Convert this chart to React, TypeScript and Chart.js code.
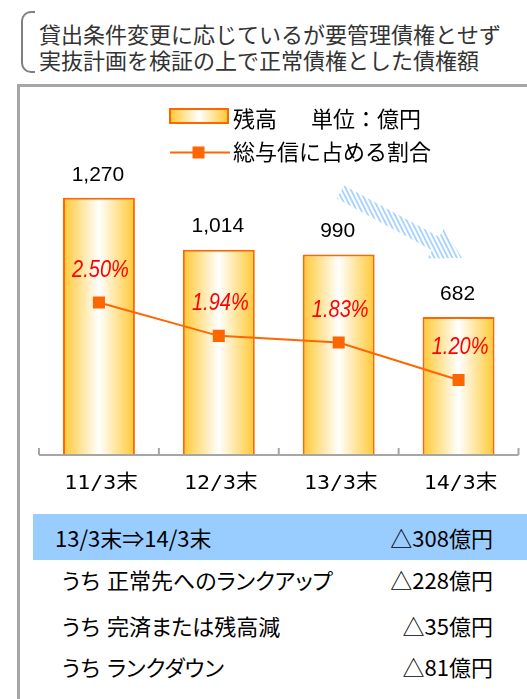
import React, { useEffect, useRef } from 'react';
import { Chart, registerables } from 'chart.js';

Chart.register(...registerables);

// ---- data ----
const titleLines = ['貸出条件変更に応じているが要管理債権とせず', '実抜計画を検証の上で正常債権とした債権額'];
const categories = ['11/3末', '12/3末', '13/3末', '14/3末'];
const balances = [1270, 1014, 990, 682];
const ratios = [2.5, 1.94, 1.83, 1.2];
const barLabel = '残高';
const unitLabel = '単位：億円';
const lineLabel = '総与信に占める割合';
const headerLabel = '13/3末⇒14/3末';
const headerValue = '△308億円';
const rowPrefix = 'うち';
const rowLabels = ['正常先へのランクアップ', '完済または残高減', 'ランクダウン'];
const rowValues = ['△228億円', '△35億円', '△81億円'];

// ---- styles ----
const BAR_PCT = 0.6;
const GOLD = '#FFC833';
const ORANGE = '#FF6600';
const CJK = '"Noto Sans CJK JP", sans-serif';

function barGradient(ctx: CanvasRenderingContext2D, x0: number, x1: number) {
  const g = ctx.createLinearGradient(x0, 0, x1, 0);
  g.addColorStop(0, GOLD);
  g.addColorStop(0.5, '#FFFFFF');
  g.addColorStop(1, GOLD);
  return g;
}

function txt(
  ctx: CanvasRenderingContext2D,
  s: string,
  x: number,
  y: number,
  font: string,
  color: string,
  align: CanvasTextAlign = 'center',
  sx = 1
) {
  ctx.save();
  ctx.translate(x, y);
  ctx.scale(sx, 1);
  ctx.font = font;
  ctx.fillStyle = color;
  ctx.textAlign = align;
  ctx.textBaseline = 'middle';
  ctx.fillText(s, 0, 0);
  ctx.restore();
}

const deco = {
  id: 'deco',
  beforeDatasetsDraw(chart: any) {
    const ctx: CanvasRenderingContext2D = chart.ctx;
    // hatched arrow
    const tail = { x: 340.5, y: 192 };
    const tip = { x: 462, y: 258 };
    const dx = tip.x - tail.x;
    const dy = tip.y - tail.y;
    const len = Math.hypot(dx, dy);
    const ux = dx / len, uy = dy / len;
    const nx = -uy, ny = ux;
    const sw = 7.5, hw = 17, hl = 30;
    const bx = tip.x - ux * hl, by = tip.y - uy * hl;
    ctx.save();
    ctx.beginPath();
    ctx.moveTo(tail.x + nx * sw, tail.y + ny * sw);
    ctx.lineTo(bx + nx * sw, by + ny * sw);
    ctx.lineTo(bx + nx * hw, by + ny * hw);
    ctx.lineTo(tip.x, tip.y);
    ctx.lineTo(bx - nx * hw, by - ny * hw);
    ctx.lineTo(bx - nx * sw, by - ny * sw);
    ctx.lineTo(tail.x - nx * sw, tail.y - ny * sw);
    ctx.closePath();
    ctx.clip();
    ctx.strokeStyle = '#A6D2FF';
    ctx.lineWidth = 1.8;
    ctx.beginPath();
    for (let c = 220; c < 370; c += 4.5) {
      ctx.moveTo(c + 0.5 * 160, 160);
      ctx.lineTo(c + 0.5 * 280, 280);
    }
    ctx.stroke();
    ctx.restore();

    // legend
    ctx.save();
    ctx.fillStyle = barGradient(ctx, 170, 228);
    ctx.fillRect(170, 109, 58, 14);
    ctx.strokeStyle = ORANGE;
    ctx.lineWidth = 2;
    ctx.strokeRect(170, 109, 58, 14);
    ctx.beginPath();
    ctx.moveTo(170, 152.5);
    ctx.lineTo(230, 152.5);
    ctx.stroke();
    ctx.fillStyle = ORANGE;
    ctx.fillRect(192.5, 146.5, 12, 12);
    ctx.restore();
    const ds = chart.data.datasets;
    txt(ctx, ds[0].label, 233, 118.5, `22px ${CJK}`, '#000', 'left');
    txt(ctx, unitLabel, 311, 118.5, `22px ${CJK}`, '#000', 'left');
    txt(ctx, ds[1].label, 233, 152, `22px ${CJK}`, '#000', 'left');
  },
  afterDatasetsDraw(chart: any) {
    const ctx: CanvasRenderingContext2D = chart.ctx;
    const a = chart.chartArea;
    const xs = chart.scales.x;
    // category axis with upward tick marks
    ctx.save();
    ctx.strokeStyle = '#A6A6A6';
    ctx.lineWidth = 2;
    ctx.beginPath();
    ctx.moveTo(a.left, a.bottom);
    ctx.lineTo(a.right, a.bottom);
    const step = xs.width / categories.length;
    for (let i = 0; i <= categories.length; i++) {
      const x = a.left + i * step;
      ctx.moveTo(x, a.bottom);
      ctx.lineTo(x, a.bottom - 7);
    }
    ctx.stroke();
    ctx.restore();
    categories.forEach((c, i) => {
      txt(ctx, c, xs.getPixelForValue(i) + 2, a.bottom + 28.5, `20px "DejaVu Sans Mono", ${CJK}`, '#000', 'center', 1.08);
    });
    // bar values
    const bm = chart.getDatasetMeta(0);
    bm.data.forEach((el: any, i: number) => {
      txt(ctx, balances[i].toLocaleString('en-US'), el.x - 1, el.y - 23, '21px "Liberation Sans", Arial, sans-serif', '#000');
    });
    // ratio labels
    const lm = chart.getDatasetMeta(1);
    lm.data.forEach((el: any, i: number) => {
      txt(ctx, ratios[i].toFixed(2) + '%', el.x + 1.5, el.y - 32, 'italic 23px "Liberation Sans", Arial, sans-serif', '#FF0000', 'center', 0.87);
    });
  },
};

export default function App() {
  const ref = useRef<HTMLCanvasElement>(null);
  useEffect(() => {
    if (!ref.current) return;
    const chart = new Chart(ref.current, {
      type: 'bar',
      data: {
        labels: categories,
        datasets: [
          {
            type: 'bar',
            label: barLabel,
            data: balances,
            yAxisID: 'y',
            backgroundColor: (c: any) => {
              const ch = c.chart;
              const xs = ch.scales && ch.scales.x;
              if (!xs || c.dataIndex === undefined || !ch.chartArea) return GOLD;
              const cx = xs.getPixelForValue(c.dataIndex);
              const half = ((xs.width / categories.length) * BAR_PCT) / 2;
              if (!isFinite(cx) || !isFinite(half) || half <= 0) return GOLD;
              return barGradient(ch.ctx, cx - half, cx + half);
            },
            borderColor: ORANGE,
            borderWidth: 2,
            barPercentage: BAR_PCT,
            categoryPercentage: 1,
            order: 2,
          } as any,
          {
            type: 'line',
            label: lineLabel,
            data: ratios,
            yAxisID: 'y1',
            borderColor: ORANGE,
            borderWidth: 2,
            pointStyle: 'rect',
            pointRadius: 8.5,
            pointBackgroundColor: ORANGE,
            pointBorderColor: ORANGE,
            pointBorderWidth: 0,
            tension: 0,
            order: 1,
          } as any,
        ],
      },
      options: {
        responsive: false,
        animation: false,
        devicePixelRatio: 1,
        events: [],
        layout: { padding: { left: 39, right: 7, top: 100, bottom: 55 } },
        plugins: { legend: { display: false }, tooltip: { enabled: false } },
        scales: {
          x: { display: false },
          y: { display: false, min: 0, max: 1753 },
          y1: { display: false, min: -0.06, max: 5.9, position: 'right' },
        },
      } as any,
      plugins: [deco],
    });
    return () => chart.destroy();
  }, []);

  const rowText: React.CSSProperties = {
    position: 'absolute',
    fontSize: 22,
    lineHeight: '22px',
    color: '#000',
    whiteSpace: 'nowrap',
    fontFeatureSettings: '"palt"',
  };
  const rowCenters = [580, 626, 667];

  return (
    <div
      style={{
        position: 'fixed',
        left: 0,
        top: 0,
        width: 527,
        height: 699,
        overflow: 'hidden',
        background: '#fff',
        fontFamily: CJK,
      }}
    >
      {/* bracket */}
      <div
        style={{
          position: 'absolute',
          left: 21,
          top: 11,
          width: 12,
          height: 58,
          borderLeft: '2px solid #7F7F7F',
          borderTop: '2px solid #7F7F7F',
          borderBottom: '2px solid #7F7F7F',
          borderRadius: '10px 0 0 10px',
        }}
      />
      {titleLines.map((t, i) => (
        <div
          key={i}
          style={{
            position: 'absolute',
            left: 39,
            top: (i === 0 ? 34 : 60) - 12,
            fontSize: 22,
            lineHeight: '22px',
            color: '#333',
            whiteSpace: 'nowrap',
          }}
        >
          {t}
        </div>
      ))}
      {/* box */}
      <div
        style={{
          position: 'absolute',
          left: 17,
          top: 84,
          width: 540,
          height: 640,
          border: '3px solid #A6A6A6',
          boxSizing: 'border-box',
        }}
      />
      {/* blue band */}
      <div style={{ position: 'absolute', left: 33, top: 514, width: 494, height: 46, background: '#99CCFF' }} />
      <div style={{ ...rowText, left: 55, top: 537.5 - 12, fontFeatureSettings: 'normal' }}>{headerLabel}</div>
      <div style={{ ...rowText, right: 34, top: 537.5 - 12, textAlign: 'right' }}>{headerValue}</div>
      {rowLabels.map((l, i) => (
        <React.Fragment key={i}>
          <div style={{ ...rowText, left: 62, top: rowCenters[i] - 12 }}>{rowPrefix}</div>
          <div style={{ ...rowText, left: 107, top: rowCenters[i] - 12 }}>{l}</div>
          <div style={{ ...rowText, right: 34, top: rowCenters[i] - 12, textAlign: 'right' }}>{rowValues[i]}</div>
        </React.Fragment>
      ))}
      <canvas ref={ref} width={527} height={510} style={{ position: 'absolute', left: 0, top: 0 }} />
    </div>
  );
}
